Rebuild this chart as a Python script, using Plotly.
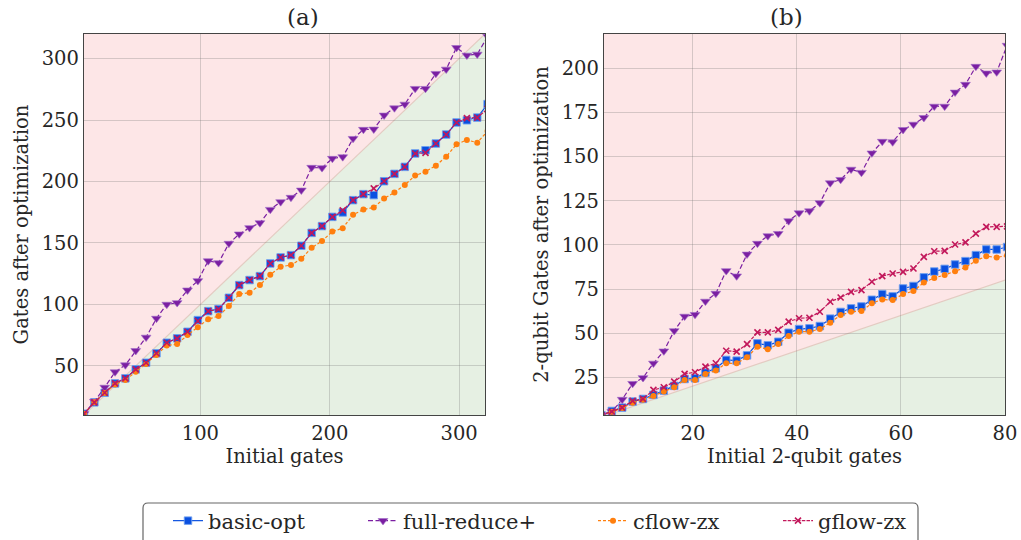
import plotly.graph_objects as go

# ---------------- data: panel (a) ----------------
xa = [10 + 8 * i for i in range(40)]
basic_a = [11, 20.3, 28.1, 35.7, 39.8, 47.1, 52.5, 60.2, 68.8, 72.4,
           77.7, 87.2, 94.5, 96.2, 105.4, 115.7, 119.8, 123.0, 133.3, 138.2,
           140.1, 147.7, 158.2, 163.7, 171.2, 174.8, 184.8, 189.7, 188.9, 200.2,
           206.2, 211.9, 222.8, 225.4, 230.9, 238.2, 248.0, 249.8, 252.0, 263.0]
full_a = [11, 21, 32.5, 45.0, 50.7, 62.3, 73.2, 88.6, 100.0, 101.3,
          111.6, 119.2, 135.4, 133.8, 149.6, 157.2, 162.3, 166.3, 177.2, 183.4,
          187.0, 192.9, 211.4, 211.1, 218.7, 220.0, 234.9, 242.3, 242.5, 253.9,
          259.8, 262.8, 275.6, 275.6, 287.8, 291.3, 308.9, 302.7, 303.5, 318.0]
cflow_a = [11, 20.3, 28.0, 34.9, 38.4, 45.2, 51.4, 58.8, 66.6, 67.7,
           75.0, 81.3, 88.0, 90.5, 98.6, 108.4, 109.5, 115.7, 124.1, 130.6,
           132.0, 137.1, 146.1, 151.5, 159.3, 162.0, 172.9, 177.2, 178.9, 186.1,
           191.0, 197.2, 204.8, 208.0, 212.9, 220.2, 230.2, 233.8, 231.6, 241.0]
gflow_a = [11, 20.3, 28.1, 35.7, 39.8, 47.1, 52.5, 60.2, 68.8, 72.4,
           77.7, 86.5, 94.5, 96.2, 105.4, 115.7, 119.8, 123.0, 133.3, 138.2,
           140.1, 147.7, 158.2, 163.7, 171.2, 176.5, 184.8, 189.7, 194.4, 200.2,
           206.2, 211.9, 222.8, 223.3, 230.9, 238.2, 248.0, 251.5, 252.0, 259.0]

# ---------------- data: panel (b) ----------------
xb = [2.4 + 2 * i for i in range(40)]
basic_b = [3.5, 5.9, 7.8, 11.2, 12.7, 15.0, 17.4, 20.1, 24.0, 24.4,
           27.6, 30.1, 34.8, 34.4, 37.4, 44.2, 43.1, 45.1, 50.2, 52.3,
           52.7, 54.0, 58.2, 62.0, 64.0, 65.1, 68.9, 72.1, 70.8, 75.3,
           76.7, 81.6, 84.9, 86.4, 88.9, 90.8, 94.2, 97.4, 97.4, 98.8]
full_b = [3.5, 5.5, 12.4, 21.4, 24.7, 32.9, 39.8, 51.3, 59.5, 60.5,
          68.0, 72.5, 85.3, 82.3, 94.7, 100.8, 105.1, 106.4, 113.6, 118.1,
          119.2, 123.8, 135.1, 137.0, 142.8, 141.0, 152.0, 158.6, 158.3, 165.3,
          168.3, 172.1, 178.5, 178.5, 186.5, 190.9, 201.1, 197.3, 197.9, 213.0]
cflow_b = [3.5, 5.5, 7.5, 10.6, 12.2, 14.4, 16.9, 19.3, 23.5, 23.5,
           26.9, 28.8, 32.9, 32.9, 36.3, 42.3, 40.8, 43.8, 48.4, 50.8,
           50.8, 52.4, 55.9, 60.2, 62.1, 62.5, 66.9, 69.1, 68.7, 72.1,
           73.8, 78.7, 81.3, 82.9, 85.1, 87.2, 91.0, 93.6, 92.9, 94.0]
gflow_b = [3.5, 5.5, 7.8, 11.6, 12.7, 17.8, 19.3, 22.5, 26.9, 27.8,
           31.0, 32.9, 40.0, 39.5, 43.8, 50.4, 50.4, 51.8, 56.5, 58.4,
           58.7, 62.1, 67.8, 70.2, 73.4, 74.4, 79.1, 82.3, 83.8, 84.7,
           86.6, 93.2, 96.4, 96.6, 100.2, 101.4, 106.4, 110.2, 110.2, 110.5]

range_ax = [10, 320]
range_ay = [10, 320]
range_bx = [2.9, 80]
range_by = [3.6, 219.5]

xticks_a = [100, 200, 300]
yticks_a = [50, 100, 150, 200, 250, 300]
xticks_b = [20, 40, 60, 80]
yticks_b = [25, 50, 75, 100, 125, 150, 175, 200]

W, H = 1021, 540
FONT = "DejaVu Serif"
PINK = "#fde6e7"
GREEN = "#e6f0e3"
TXT = "#262626"

series = [
    ("basic-opt", "#0a50e0", "solid", "square", 7.5, dict(color="rgba(110,160,240,0.9)", width=1)),
    ("full-reduce+", "#7b1fa2", "5px,2.5px", "triangle-down", 8.5, dict(color="rgba(160,110,200,0.8)", width=0.8)),
    ("cflow-zx", "#ff7f0e", "3px,2px", "circle", 6, dict(color="#ff7f0e", width=0)),
    ("gflow-zx", "#c2185b", "3.5px,1.2px", "x-thin", 6, dict(color="#c2185b", width=1.6)),
]
# legend text start positions (px) for each entry
legend_text_x = [212, 407, 637, 822]

fig = go.Figure()
data_a = [basic_a, full_a, cflow_a, gflow_a]
data_b = [basic_b, full_b, cflow_b, gflow_b]

legend_layouts = {}
for k, ((name, col, dash, sym, size, mline), ya, yb) in enumerate(zip(series, data_a, data_b)):
    lg = "legend" if k == 0 else f"legend{k + 1}"
    fig.add_trace(go.Scatter(x=xa, y=ya, mode="lines+markers", name=name,
                             line=dict(color=col, width=1.2, dash=dash),
                             marker=dict(symbol=sym, size=size, color=col, line=mline),
                             xaxis="x", yaxis="y", legend=lg, showlegend=True))
    fig.add_trace(go.Scatter(x=xb, y=yb, mode="lines+markers", name=name,
                             line=dict(color=col, width=1.2, dash=dash),
                             marker=dict(symbol=sym, size=size, color=col, line=mline),
                             xaxis="x2", yaxis="y2", legend=lg, showlegend=False))
    legend_layouts[lg] = dict(orientation="h", x=(legend_text_x[k] - 44) / W, xanchor="left",
                              y=(H - 521) / H, yanchor="middle",
                              bgcolor="rgba(0,0,0,0)", borderwidth=0,
                              font=dict(family=FONT, size=21, color=TXT))

# shaded regions (below y=x green, above pink) built from axis ranges
shapes = []
for xr, yr, xref, yref in [(range_ax, range_ay, "x", "y"), (range_bx, range_by, "x2", "y2")]:
    lo = min(xr[0], yr[0]) - 50
    hi = max(xr[1], yr[1]) + 50
    shapes.append(dict(type="path", xref=xref, yref=yref, layer="below",
                       path=f"M {lo},{lo} L {hi},{hi} L {hi},{lo - 500} L {lo},{lo - 500} Z",
                       fillcolor=GREEN, line=dict(width=0)))
    shapes.append(dict(type="line", xref=xref, yref=yref, layer="below",
                       x0=lo, y0=lo, x1=hi, y1=hi,
                       line=dict(color="rgba(225,200,190,0.9)", width=1.2)))

# legend frame (rounded box) in paper coords
bx0, bx1, by_top, by_bot, r = 143, 918, 503, 548, 5
def px(v):
    return v / W
def py(v):
    return (H - v) / H
frame = (f"M {px(bx0 + r)},{py(by_top)} L {px(bx1 - r)},{py(by_top)} "
         f"Q {px(bx1)},{py(by_top)} {px(bx1)},{py(by_top + r)} L {px(bx1)},{py(by_bot)} "
         f"L {px(bx0)},{py(by_bot)} L {px(bx0)},{py(by_top + r)} "
         f"Q {px(bx0)},{py(by_top)} {px(bx0 + r)},{py(by_top)} Z")
shapes.append(dict(type="path", xref="paper", yref="paper", layer="above", path=frame,
                   fillcolor="white", line=dict(color="#666", width=1.2)))

axis_common = dict(showgrid=True, gridcolor="rgba(110,110,110,0.28)", gridwidth=1,
                   showline=True, linecolor="#444", linewidth=1.4, mirror=True,
                   ticks="", zeroline=False,
                   tickfont=dict(family=FONT, size=19.5, color=TXT),
                   title_font=dict(family=FONT, size=19.5, color=TXT))

fig.update_layout(
    width=W, height=H,
    margin=dict(l=0, r=0, t=0, b=0, autoexpand=False),
    paper_bgcolor="white", plot_bgcolor=PINK,
    font=dict(family=FONT, color=TXT),
    shapes=shapes,
    showlegend=True,
    xaxis=dict(domain=[84 / W, 485 / W], range=range_ax, tickvals=xticks_a,
               title=dict(text="Initial gates", standoff=4), anchor="y", **axis_common),
    yaxis=dict(domain=[125 / H, 506 / H], range=range_ay, tickvals=yticks_a,
               title=dict(text="Gates after optimization", standoff=7), anchor="x", **axis_common),
    xaxis2=dict(domain=[604 / W, 1005 / W], range=range_bx, tickvals=xticks_b,
                title=dict(text="Initial 2-qubit gates", standoff=4), anchor="y2", **axis_common),
    yaxis2=dict(domain=[125 / H, 506 / H], range=range_by, tickvals=yticks_b,
                title=dict(text="2-qubit Gates after optimization", standoff=7), anchor="x2", **axis_common),
    annotations=[
        dict(text="(a)", x=(84 + 485) / 2 / W, y=(H - 17) / H, xref="paper", yref="paper",
             showarrow=False, font=dict(family=FONT, size=23, color=TXT), yanchor="middle"),
        dict(text="(b)", x=(604 + 1005) / 2 / W, y=(H - 17) / H, xref="paper", yref="paper",
             showarrow=False, font=dict(family=FONT, size=23, color=TXT), yanchor="middle"),
    ],
    **legend_layouts,
)

fig.write_html("out.html")
